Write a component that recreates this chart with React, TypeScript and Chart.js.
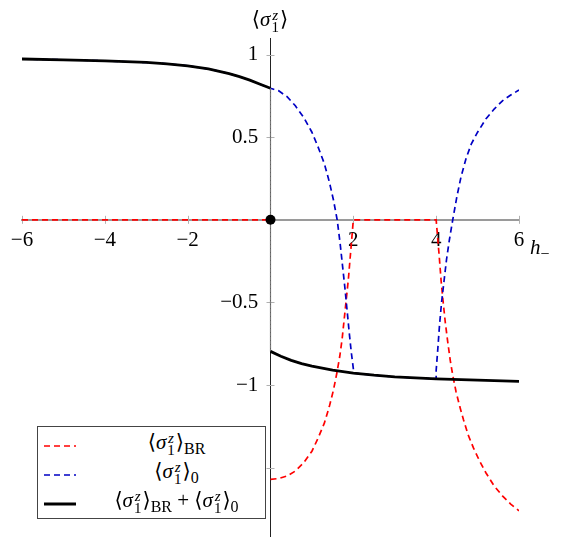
import React, { useEffect, useRef } from 'react';
import { Chart, registerables } from 'chart.js';

Chart.register(...registerables);

// ---------- data ----------
const xTicks = [-6, -4, -2, 2, 4, 6];
const yTicks = [-1.5, -1, -0.5, 0.5, 1];

// <σ1z>_BR + <σ1z>_0 (solid black); the step at h=0 is drawn thin dashed grey
const sumX = [-6, -5, -4, -3, -2.5, -2, -1.5, -1, -0.75, -0.5, -0.25, 0, 0, 0.25, 0.5, 0.75, 1, 1.5, 2, 2.5, 3, 4, 5, 6];
const sumY = [0.973, 0.968, 0.962, 0.952, 0.944, 0.932, 0.913, 0.885, 0.866, 0.845, 0.82, 0.796, -0.796, -0.825, -0.85, -0.87, -0.885, -0.91, -0.927, -0.94, -0.95, -0.962, -0.97, -0.977];

// <σ1z>_BR (red dashed); null = gap
const brX = [-6, 0, 0, 0, 0.2, 0.4, 0.6, 0.8, 1.0, 1.15, 1.3, 1.42, 1.52, 1.6, 1.67, 1.73, 1.78, 1.83, 1.88, 1.92, 1.96, 2, 4, 4.04, 4.08, 4.12, 4.17, 4.22, 4.28, 4.34, 4.4, 4.48, 4.57, 4.66, 4.77, 4.9, 5.05, 5.2, 5.4, 5.6, 5.8, 6];
const brY = [0, 0, null, -1.57, -1.565, -1.55, -1.52, -1.47, -1.4, -1.32, -1.23, -1.13, -1.03, -0.93, -0.83, -0.72, -0.6, -0.48, -0.36, -0.24, -0.12, 0, 0, -0.12, -0.24, -0.37, -0.5, -0.62, -0.74, -0.85, -0.94, -1.04, -1.13, -1.21, -1.3, -1.38, -1.46, -1.53, -1.61, -1.67, -1.72, -1.76];

// <σ1z>_0 (blue dashed)
const zeroX = [-6, -5, -4, -3, -2.5, -2, -1.5, -1, -0.75, -0.5, -0.25, 0, 0.2, 0.4, 0.6, 0.8, 1.0, 1.15, 1.3, 1.42, 1.52, 1.61, 1.68, 1.74, 1.8, 1.85, 1.9, 1.95, 2, 2, 2.5, 3, 4, 4, 4.04, 4.08, 4.13, 4.19, 4.25, 4.32, 4.4, 4.5, 4.6, 4.72, 4.85, 5.0, 5.2, 5.4, 5.6, 5.8, 6];
const zeroY = [0.973, 0.968, 0.962, 0.952, 0.944, 0.932, 0.913, 0.885, 0.866, 0.845, 0.82, 0.796, 0.78, 0.745, 0.69, 0.62, 0.53, 0.44, 0.34, 0.23, 0.12, 0, -0.14, -0.28, -0.42, -0.55, -0.68, -0.8, -0.9, -0.927, -0.94, -0.95, -0.962, -0.91, -0.78, -0.64, -0.5, -0.37, -0.24, -0.12, 0, 0.14, 0.26, 0.37, 0.46, 0.53, 0.61, 0.67, 0.72, 0.755, 0.785];

const dotX = [0];
const dotY = [0];

const seriesLabels = ['BR', '0'];

const FONT = "'Liberation Serif', 'DejaVu Serif', serif";
const FS = 21;
const RED = '#ff0000';
const BLUE = '#0000c4';

const zip = (xs: number[], ys: (number | null)[]) => xs.map((x, i) => ({ x, y: ys[i] }));
const fmt = (v: number) => (v < 0 ? '\u2212' + String(Math.abs(v)) : String(v));

const crossTicks = {
  id: 'crossTicks',
  beforeDatasetsDraw(chart: any) {
    const { ctx, scales } = chart;
    const xs = scales.x;
    const ys = scales.y;
    const x0 = xs.getPixelForValue(0);
    const y0 = ys.getPixelForValue(0);
    ctx.save();
    ctx.strokeStyle = '#b0b0b0';
    ctx.lineWidth = 1;
    ctx.beginPath();
    xs.ticks.forEach((t: any) => {
      const p = Math.round(xs.getPixelForValue(t.value)) + 0.5;
      ctx.moveTo(p, y0 - 4);
      ctx.lineTo(p, y0 + 4);
    });
    ys.ticks.forEach((t: any) => {
      const p = Math.round(ys.getPixelForValue(t.value)) + 0.5;
      ctx.moveTo(x0 - 4, p);
      ctx.lineTo(x0 + 4, p);
    });
    ctx.stroke();
    ctx.restore();
  },
};

function Sig() {
  return (
    <>
      <span>⟨</span>
      <i>σ</i>
      <span
        style={{
          display: 'inline-flex',
          flexDirection: 'column',
          fontSize: 15,
          lineHeight: '12px',
          verticalAlign: 6,
          marginLeft: 1,
          marginRight: 1,
        }}
      >
        <i>z</i>
        <span>1</span>
      </span>
      <span>⟩</span>
    </>
  );
}

function Sub({ t }: { t: string }) {
  return <span style={{ fontSize: 16, verticalAlign: -5 }}>{t}</span>;
}

function Sample({ color, dash, width }: { color: string; dash?: string; width: number }) {
  return (
    <svg width={36} height={10} style={{ display: 'block', flex: 'none' }}>
      <line x1={2} y1={5} x2={34} y2={5} stroke={color} strokeWidth={width} strokeDasharray={dash} />
    </svg>
  );
}

export default function App() {
  const ref = useRef<HTMLCanvasElement>(null);

  useEffect(() => {
    document.body.style.margin = '0';
    const canvas = ref.current!;
    const chart = new Chart(canvas, {
      type: 'line',
      data: {
        datasets: [
          {
            label: 'origin',
            data: zip(dotX, dotY),
            showLine: false,
            pointRadius: 5,
            pointBackgroundColor: '#000',
            pointBorderWidth: 0,
            borderColor: '#000',
          },
          {
            label: 'sum',
            data: zip(sumX, sumY),
            borderColor: '#000',
            borderWidth: 2.8,
            pointRadius: 0,
            tension: 0,
            segment: {
              borderColor: (c: any) => (c.p0.parsed.x === 0 && c.p1.parsed.x === 0 ? '#777' : undefined),
              borderWidth: (c: any) => (c.p0.parsed.x === 0 && c.p1.parsed.x === 0 ? 1.2 : undefined),
              borderDash: (c: any) => (c.p0.parsed.x === 0 && c.p1.parsed.x === 0 ? [2, 2] : undefined),
            },
          },
          {
            label: 'zero',
            data: zip(zeroX, zeroY),
            borderColor: BLUE,
            borderWidth: 1.7,
            borderDash: [6, 4],
            pointRadius: 0,
            tension: 0,
          },
          {
            label: 'BR',
            data: zip(brX, brY),
            borderColor: RED,
            borderWidth: 1.7,
            borderDash: [6, 4],
            pointRadius: 0,
            tension: 0,
            spanGaps: false,
          },
        ],
      },
      options: {
        animation: false,
        responsive: false,
        maintainAspectRatio: false,
        layout: { padding: { left: 22, right: 47, top: 38, bottom: 0 } },
        plugins: { legend: { display: false }, tooltip: { enabled: false } },
        scales: {
          x: {
            type: 'linear',
            min: -6,
            max: 6,
            position: { y: 0 } as any,
            afterBuildTicks: (a: any) => {
              a.ticks = xTicks.map((v) => ({ value: v }));
            },
            ticks: {
              callback: (v: any) => fmt(Number(v)),
              font: { family: FONT, size: FS },
              color: '#000',
              padding: 8,
              maxRotation: 0,
              autoSkip: false,
            },
            grid: { display: false, drawTicks: false },
            border: { display: true, color: '#9a9a9a', width: 2 },
          },
          y: {
            type: 'linear',
            min: -2.0,
            max: 1.1,
            position: { x: 0 } as any,
            afterBuildTicks: (a: any) => {
              a.ticks = yTicks.map((v) => ({ value: v }));
            },
            ticks: {
              callback: (v: any) => fmt(Number(v)) + '\u2002\u200A',
              font: { family: FONT, size: FS },
              color: '#000',
              padding: 0,
              autoSkip: false,
            },
            grid: { display: false, drawTicks: false },
            border: { display: true, color: '#222', width: 1 },
          },
        },
      },
      plugins: [crossTicks],
    });
    return () => chart.destroy();
  }, []);

  return (
    <div
      style={{
        position: 'fixed',
        left: 0,
        top: 0,
        width: 566,
        height: 537,
        overflow: 'hidden',
        background: '#fff',
        fontFamily: FONT,
        fontSize: FS,
        color: '#000',
      }}
    >
      <canvas ref={ref} width={566} height={563} style={{ position: 'absolute', left: 0, top: 0 }} />
      <div style={{ position: 'absolute', left: 0, width: 540, top: 4, textAlign: 'center', lineHeight: '30px', whiteSpace: 'nowrap' }}>
        <Sig />
      </div>
      <div style={{ position: 'absolute', left: 530, top: 232, lineHeight: '30px', whiteSpace: 'nowrap' }}>
        <i>h</i>
        <Sub t={'\u2212'} />
      </div>
      <div
        style={{
          position: 'absolute',
          left: 37,
          top: 426,
          width: 229,
          height: 93,
          boxSizing: 'border-box',
          border: '1px solid #444',
          background: '#fff',
          paddingTop: 4,
        }}
      >
        {[
          { c: RED, d: '6 4', w: 1.7, content: (<><Sig /><Sub t={seriesLabels[0]} /></>) },
          { c: BLUE, d: '6 4', w: 1.7, content: (<><Sig /><Sub t={seriesLabels[1]} /></>) },
          {
            c: '#000',
            d: undefined,
            w: 3,
            content: (
              <>
                <Sig />
                <Sub t={seriesLabels[0]} />
                <span> + </span>
                <Sig />
                <Sub t={seriesLabels[1]} />
              </>
            ),
          },
        ].map((r, i) => (
          <div key={i} style={{ display: 'flex', alignItems: 'center', height: 29, paddingLeft: 4 }}>
            <Sample color={r.c} dash={r.d} width={r.w} />
            <div style={{ flex: 1, textAlign: 'center', whiteSpace: 'nowrap', lineHeight: '29px', paddingLeft: 10 }}>{r.content}</div>
          </div>
        ))}
      </div>
    </div>
  );
}
